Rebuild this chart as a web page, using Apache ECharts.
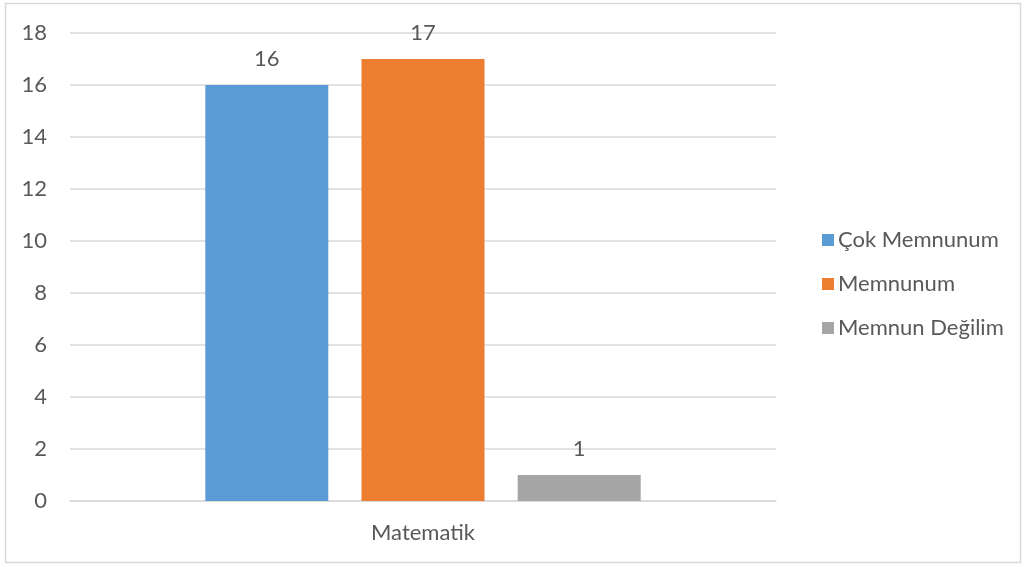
<!DOCTYPE html>
<html><head><meta charset="utf-8">
<script src="https://cdn.jsdelivr.net/npm/echarts@6/dist/echarts.min.js"></script>
<style>html,body{margin:0;padding:0;background:#fff}#c{width:1027px;height:567px}</style>
</head><body><div id="c"></div>
<script>
const categories = ['Matematik'];
const seriesNames = ['Çok Memnunum', 'Memnunum', 'Memnun Değilim'];
const cokMemnunum = [16];
const memnunum = [17];
const memnunDegilim = [1];
const colors = ['#5B9BD5', '#ED7D31', '#A5A5A5'];
const seriesData = [cokMemnunum, memnunum, memnunDegilim];

const font = 'Lato, Open Sans, sans-serif';
const txt = '#595959';
const fs = 22;
const chart = echarts.init(document.getElementById('c'));
chart.setOption({
  animation: false,
  graphic: [{type:'rect', shape:{x:5.5,y:3.5,width:1015,height:559}, style:{fill:'none', stroke:'#d9d9d9', lineWidth:1.5}, silent:true}],
  grid: {left:70, right:251, top:33, bottom:66},
  legend: {
    orient:'vertical', left:817, top:222, itemWidth:12, itemHeight:12, itemGap:18,
    icon:'rect',
    textStyle:{color:txt, fontSize:fs, fontFamily:font, lineHeight:26, padding:[0,0,0,-1]},
    data: seriesNames
  },
  xAxis: {
    type:'category', data:categories,
    axisLine:{lineStyle:{color:'#d9d9d9', width:1.5}}, axisTick:{show:false},
    axisLabel:{color:txt, fontSize:fs, fontFamily:font, margin:21}
  },
  yAxis: {
    type:'value', min:0, max:18, interval:2,
    axisLine:{show:false}, axisTick:{show:false},
    splitLine:{lineStyle:{color:'#d9d9d9', width:1.5}},
    axisLabel:{color:txt, fontSize:fs, fontFamily:font, margin:23}
  },
  series: seriesNames.map((n,i)=>({
    name:n, type:'bar', data:seriesData[i], barWidth:123, barGap:'27%',
    itemStyle:{color:colors[i]},
    label:{show:true, position:'top', distance:15, color:txt, fontSize:fs, fontFamily:font}
  }))
});
</script></body></html>
